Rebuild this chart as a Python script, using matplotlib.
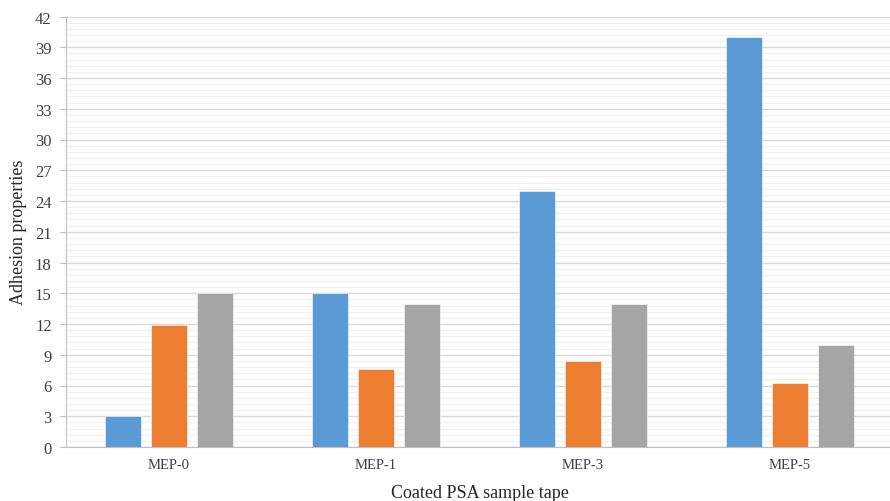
import numpy as np
import matplotlib.pyplot as plt
from matplotlib.ticker import MultipleLocator

samples = ['MEP-0', 'MEP-1', 'MEP-3', 'MEP-5']
series_a = [3.0, 15.0, 25.0, 40.0]
series_b = [11.9, 7.6, 8.4, 6.2]
series_c = [15.0, 14.0, 14.0, 10.0]
colors = ['#5B9BD5', '#ED7D31', '#A5A5A5']

plt.rcParams['font.family'] = ['Liberation Serif', 'DejaVu Serif']

fig = plt.figure(figsize=(8.9, 5.02), dpi=100)
ax = fig.add_axes([65.5 / 890, 54 / 502, 828 / 890, 430.5 / 502])

x = np.arange(len(samples))
w = 0.174
step = 0.222
for i, vals in enumerate([series_a, series_b, series_c]):
    ax.bar(x + (i - 1) * step, vals, width=w, color=colors[i],
           edgecolor='white', linewidth=0.4, zorder=3)

ax.set_xlim(-0.5, len(samples) - 0.5)
ax.set_ylim(0, 42)
ax.yaxis.set_major_locator(MultipleLocator(3))
ax.yaxis.set_minor_locator(MultipleLocator(0.6))
ax.grid(which='major', axis='y', color='#d9d9d9', linewidth=1.0, zorder=0)
ax.grid(which='minor', axis='y', color='#efefef', linewidth=0.8, zorder=0)
ax.set_xticks(x)
ax.set_xticklabels(samples)
ax.tick_params(axis='x', length=0, pad=8, labelsize=10.5, colors='#404040')
ax.tick_params(axis='y', which='major', length=4, color='#bfbfbf',
               labelsize=12, colors='#404040', pad=6)
ax.tick_params(axis='y', which='minor', length=0)
for s in ['top', 'right']:
    ax.spines[s].set_visible(False)
for s in ['left', 'bottom']:
    ax.spines[s].set_color('#bfbfbf')

ax.set_ylabel('Adhesion properties', fontsize=13, color='#262626', labelpad=6)
ax.set_xlabel('Coated PSA sample tape', fontsize=13, color='#262626', labelpad=9)

fig.savefig('out.png', dpi=100)
